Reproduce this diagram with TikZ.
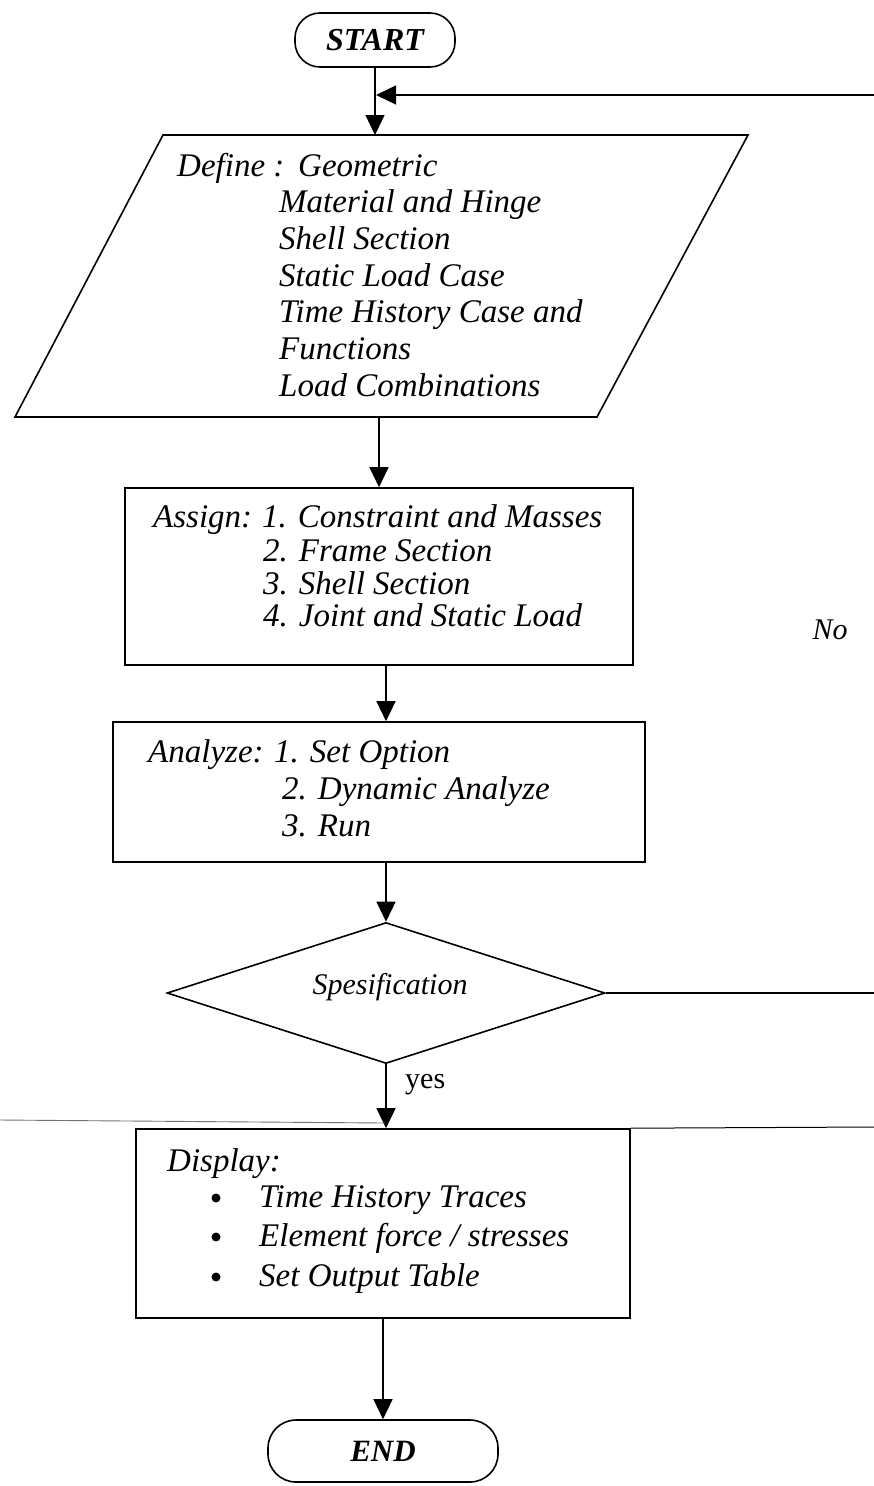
\documentclass[tikz,border=0pt]{standalone}
\usepackage{fontspec}
\setmainfont{Liberation Serif}
\usetikzlibrary{shapes.geometric,arrows.meta}
\begin{document}
\begin{tikzpicture}[x=1pt,y=-1pt,
  shapeline/.style={draw=black,line width=1.6pt},
  box/.style={shapeline,rectangle,inner sep=0pt},
  term/.style={shapeline,rectangle,rounded corners=25pt,inner sep=0pt},
  txt/.style={anchor=base west,inner sep=0pt,font=\fontsize{33}{37}\selectfont\itshape},
  conn/.style={line width=1.3pt,-{Triangle[length=20pt,width=19pt]}},
  plain/.style={line width=1.3pt},
  artifact/.style={line width=0.9pt,draw=black!55},
]
\useasboundingbox (0,0) rectangle (874,1486);
\fill[white] (0,0) rectangle (874,1486);

% START
\node[term,minimum width=160pt,minimum height=54pt,
      font=\fontsize{32}{36}\selectfont\bfseries\itshape] (start) at (375,40) {START};

% Define (parallelogram)
\coordinate (dTL) at (163,135);
\coordinate (dTR) at (748,135);
\coordinate (dBR) at (597,417);
\coordinate (dBL) at (15,417);
\draw[shapeline,line join=miter] (dTL)--(dTR)--(dBR)--(dBL)--cycle;
\coordinate (dN) at (375,135);
\coordinate (dS) at (379,417);
\node[txt] (d0) at (177,176) {Define :};
\node[txt] (d0b) at (298,176) {Geometric};
\node[txt] (d1) at (279,212) {Material and Hinge};
\node[txt] (d2) at (279,249) {Shell Section};
\node[txt] (d3) at (279,286) {Static Load Case};
\node[txt] (d4) at (279,322) {Time History Case and};
\node[txt] (d5) at (279,359) {Functions};
\node[txt] (d6) at (279,396) {Load Combinations};

% Assign
\node[box,minimum width=508pt,minimum height=177pt] (assign) at (379,576.5) {};
\node[txt] (a0) at (153,527) {Assign:};
\node[txt] (a1) at (262,527) {1. Constraint and Masses};
\node[txt] (a2) at (263,561) {2. Frame Section};
\node[txt] (a3) at (263,594) {3. Shell Section};
\node[txt] (a4) at (263,626) {4. Joint and Static Load};

% Analyze
\node[box,minimum width=532pt,minimum height=140pt] (analyze) at (379,792) {};
\node[txt] (n0) at (148,762) {Analyze:};
\node[txt] (n1) at (274,762) {1. Set Option};
\node[txt] (n2) at (282,799) {2. Dynamic Analyze};
\node[txt] (n3) at (282,836) {3. Run};

% Decision
\node[shapeline,diamond,minimum width=438pt,minimum height=141pt,inner sep=0pt] (dec) at (386,993) {};
\node[inner sep=0pt,anchor=base,font=\fontsize{30}{34}\selectfont\itshape] (spec) at (390,994) {Spesification};

% Display
\node[box,minimum width=494pt,minimum height=189pt] (display) at (383,1223.5) {};
\node[txt] (p0) at (167,1171) {Display:};
\node[circle,fill=black,inner sep=0pt,minimum size=9pt] (b1) at (216,1198) {};
\node[circle,fill=black,inner sep=0pt,minimum size=9pt] (b2) at (216,1237) {};
\node[circle,fill=black,inner sep=0pt,minimum size=9pt] (b3) at (216,1277) {};
\node[txt] (p1) at (259,1207) {Time History Traces};
\node[txt] (p2) at (259,1246) {Element force / stresses};
\node[txt] (p3) at (259,1286) {Set Output Table};

% END
\node[term,minimum width=230pt,minimum height=62pt,rounded corners=28pt,
      font=\fontsize{31}{35}\selectfont\bfseries\itshape] (finish) at (383,1451) {END};

% labels
\node[inner sep=0pt,font=\fontsize{30}{34}\selectfont\itshape] (no) at (830,630) {No};
\node[inner sep=0pt,anchor=base west,font=\fontsize{30}{34}\selectfont] (yes) at (405,1088) {yes};

% feedback coordinates
\coordinate (fbR) at (874,95);
\coordinate (fbTip) at (376,95);
\coordinate (fbD) at (874,993);

% connectors
\draw[conn] (start.south) -- (dN);
\draw[conn] (fbR) -- (fbTip);
\draw[conn] (dS) -- (assign.north);
\draw[conn] (assign.south -| dec.north) -- (analyze.north -| dec.north);
\draw[conn] (analyze.south -| dec.north) -- (dec.north);
\draw[conn] (dec.south) -- (display.north -| dec.south);
\draw[plain] (dec.east) -- (fbD);
\draw[conn] (display.south) -- (finish.north);

% scan lines across the page
\coordinate (sL) at (0,1120);
\coordinate (sM) at (385,1123);
\coordinate (sR) at (874,1127);
\draw[artifact] (sL) -- (sM);
\draw[line width=1pt] (display.north east) -- (sR);
\end{tikzpicture}
\end{document}
